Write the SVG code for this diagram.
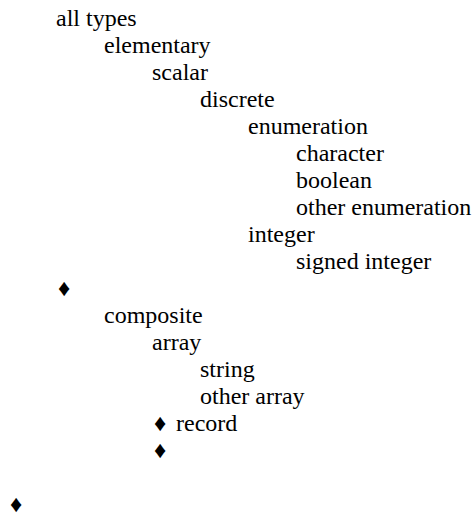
<svg xmlns="http://www.w3.org/2000/svg" width="473" height="516" viewBox="0 0 473 516">
<rect width="473" height="516" fill="#fff"/>
<g font-family="'Liberation Serif', 'Times New Roman', serif" font-size="24" fill="#000">
<g id="all-types"><text x="56" y="26">all types</text></g>
<g id="elementary"><text x="104" y="53">elementary</text></g>
<g id="scalar"><text x="152" y="80">scalar</text></g>
<g id="discrete"><text x="200" y="107">discrete</text></g>
<g id="enumeration"><text x="248" y="134">enumeration</text></g>
<g id="character"><text x="296" y="161">character</text></g>
<g id="boolean"><text x="296" y="188">boolean</text></g>
<g id="other-enumeration"><text x="296" y="215">other enumeration</text></g>
<g id="integer"><text x="248" y="242">integer</text></g>
<g id="signed-integer"><text x="296" y="269">signed integer</text></g>
<g id="bullet-1"><text x="58" y="296">♦</text></g>
<g id="composite"><text x="104" y="323">composite</text></g>
<g id="array"><text x="152" y="350">array</text></g>
<g id="string"><text x="200" y="377">string</text></g>
<g id="other-array"><text x="200" y="404">other array</text></g>
<g id="record"><text x="154" y="431">♦</text><text x="176" y="431">record</text></g>
<g id="bullet-2"><text x="154" y="458">♦</text></g>
<g id="bullet-3"><text x="10" y="512">♦</text></g>
</g>
</svg>
